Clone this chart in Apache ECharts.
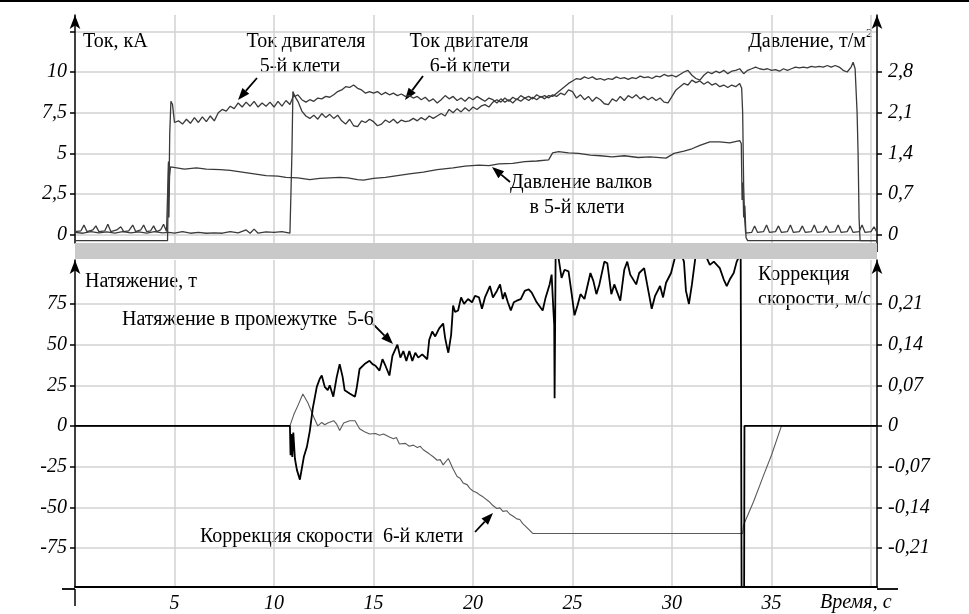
<!DOCTYPE html>
<html>
<head>
<meta charset="utf-8">
<title>Ток двигателей, давление и натяжение</title>
<script src="https://cdn.jsdelivr.net/npm/echarts@6/dist/echarts.min.js"></script>
<style>
  html, body { margin: 0; padding: 0; background: #fff; }
  #chart { width: 969px; height: 614px; }
</style>
</head>
<body>
<div id="chart"></div>
<script>
// шкалы
const timeTicks = [5, 10, 15, 20, 25, 30, 35, 40];
const timeLabels = [5, 10, 15, 20, 25, 30, 35];
const currentGrid = [0, 2.5, 5, 7.5, 10, 12.5];
const currentLabels = [0, 2.5, 5, 7.5, 10];
const pressureLabels = [0, 0.7, 1.4, 2.1, 2.8];
const tensionLabels = [-75, -50, -25, 0, 25, 50, 75];
const speedLabels = [-0.21, -0.14, -0.07, 0, 0.07, 0.14, 0.21];

// [время, с ; ток, кА] — двигатель 5-й клети
const motor5Current = [
  [0,0.2],[0.3,0.25],[0.45,0.6],[0.6,0.2],[0.9,0.3],[1.05,0.55],[1.2,0.2],[1.5,0.25],[1.65,0.65],[1.8,0.2],
  [2.1,0.3],[2.3,0.5],[2.45,0.2],[2.7,0.25],[2.9,0.6],[3.05,0.2],[3.3,0.3],[3.45,0.6],[3.6,0.2],[3.8,0.25],
  [3.95,0.55],[4.1,0.2],[4.3,0.3],[4.45,0.65],[4.6,0.2],[4.68,0.3],[4.7,4.5],[4.72,2.3],[4.76,6.2],[4.82,8.2],
  [4.9,8.0],[5.0,6.9],[5.2,7.0],[5.4,6.8],[5.6,7.1],[5.8,6.85],[6.0,7.2],[6.2,6.9],[6.4,7.25],[6.6,6.95],
  [6.8,7.3],[7.0,7.0],[7.2,7.5],[7.4,7.7],[7.6,7.6],[7.8,7.9],[8.0,7.75],[8.2,8.1],[8.4,7.85],[8.6,8.15],
  [8.8,7.9],[9.0,8.2],[9.2,7.85],[9.4,8.1],[9.6,7.9],[9.8,8.15],[10.0,7.85],[10.2,8.2],[10.4,7.9],[10.6,8.25],
  [10.8,8.0],[11.0,8.6],[11.2,8.2],[11.4,7.6],[11.6,7.3],[11.8,7.15],[12.0,7.35],[12.2,7.1],[12.4,7.45],[12.6,7.2],
  [12.8,7.4],[13.0,7.15],[13.2,7.35],[13.4,7.0],[13.6,6.8],[13.8,7.1],[14.0,6.7],[14.2,6.65],[14.4,7.0],[14.6,6.9],
  [14.8,7.1],[15.0,6.95],[15.2,6.7],[15.4,6.8],[15.6,7.05],[15.8,6.9],[16.0,7.1],[16.2,6.85],[16.4,7.05],[16.6,6.95],
  [16.8,7.0],[17.0,7.15],[17.2,7.0],[17.4,7.2],[17.6,7.05],[17.8,7.3],[18.0,7.15],[18.2,7.3],[18.4,7.45],[18.6,7.3],
  [18.8,7.7],[19.0,7.5],[19.2,7.75],[19.4,7.55],[19.6,7.8],[19.8,7.6],[20.0,7.85],[20.2,7.7],[20.4,7.9],[20.6,8.0],
  [20.8,7.85],[21.0,8.15],[21.2,8.3],[21.4,8.15],[21.6,8.4],[21.8,8.2],[22.0,8.45],[22.2,8.3],[22.4,8.55],[22.6,8.4],
  [22.8,8.5],[23.0,8.35],[23.2,8.6],[23.4,8.45],[23.6,8.55],[23.8,8.4],[24.0,8.6],[24.2,8.5],[24.4,8.7],[24.6,8.6],
  [24.8,8.9],[25.0,8.8],[25.2,8.4],[25.4,8.6],[25.6,8.3],[25.8,8.5],[26.0,8.2],[26.2,8.45],[26.4,8.3],[26.6,8.05],
  [26.8,8.0],[27.0,8.35],[27.2,8.2],[27.4,8.5],[27.6,8.25],[27.8,8.55],[28.0,8.4],[28.2,8.6],[28.4,8.35],[28.6,8.5],
  [28.8,8.3],[29.0,8.45],[29.2,8.25],[29.4,8.4],[29.6,8.15],[29.8,8.1],[30.0,8.5],[30.2,8.9],[30.4,9.1],[30.6,9.3],
  [30.8,9.2],[31.0,9.5],[31.2,9.35],[31.4,9.45],[31.6,9.25],[31.8,9.4],[32.0,9.2],[32.2,9.3],[32.4,9.1],[32.6,9.2],
  [32.8,9.05],[33.0,9.2],[33.2,9.1],[33.4,9.3],[33.5,9.0],[33.55,7.5],[33.6,3.0],[33.65,1.0],[33.7,0.1],[33.8,0.2],
  [34.0,0.15],[34.15,0.55],[34.3,0.15],[34.6,0.2],[34.75,0.6],[34.9,0.15],[35.2,0.2],[35.35,0.55],[35.5,0.15],[35.8,0.2],
  [35.95,0.6],[36.1,0.15],[36.4,0.2],[36.55,0.55],[36.7,0.15],[37.0,0.2],[37.15,0.6],[37.3,0.15],[37.6,0.2],[37.75,0.55],
  [37.9,0.15],[38.2,0.2],[38.35,0.6],[38.5,0.15],[38.8,0.2],[38.95,0.55],[39.1,0.15],[39.4,0.2],[39.55,0.6],[39.7,0.15],
  [40.0,0.2],[40.15,0.5],[40.3,0.15]
];

// [время, с ; ток, кА] — двигатель 6-й клети
const motor6Current = [
  [0,0.15],[0.4,0.1],[0.8,0.2],[1.2,0.12],[1.6,0.18],[2.0,0.1],[2.4,0.2],[2.8,0.12],[3.2,0.18],[3.6,0.1],
  [4.0,0.2],[4.4,0.12],[4.7,0.15],[5.0,0.1],[5.4,0.2],[5.8,0.1],[6.2,0.15],[6.6,0.1],[7.0,0.12],[7.4,0.1],
  [7.8,0.2],[8.2,0.12],[8.6,0.3],[8.8,0.1],[9.0,0.35],[9.2,0.1],[9.6,0.18],[10.0,0.15],[10.4,0.2],[10.8,0.1],
  [10.85,2.5],[10.9,5.0],[10.95,8.8],[11.05,8.5],[11.2,8.6],[11.4,8.3],[11.6,8.15],[11.8,8.3],[12.0,8.2],[12.2,8.4],
  [12.4,8.35],[12.6,8.5],[12.8,8.45],[13.0,8.6],[13.2,8.8],[13.4,8.9],[13.6,9.1],[13.8,9.05],[14.0,9.2],[14.2,9.0],
  [14.4,8.9],[14.6,8.7],[14.8,8.8],[15.0,8.7],[15.2,8.8],[15.4,8.6],[15.6,8.75],[15.8,8.6],[16.0,8.7],[16.2,8.55],
  [16.4,8.65],[16.6,8.5],[16.8,8.55],[17.0,8.4],[17.2,8.5],[17.4,8.3],[17.6,8.45],[17.8,8.2],[18.0,8.35],[18.2,8.1],
  [18.4,8.3],[18.6,8.55],[18.8,8.35],[19.0,8.5],[19.2,8.25],[19.4,8.4],[19.6,8.2],[19.8,8.45],[20.0,8.3],[20.2,8.5],
  [20.4,8.35],[20.6,8.2],[20.8,8.4],[21.0,8.3],[21.2,8.1],[21.4,8.35],[21.6,8.15],[21.8,8.3],[22.0,8.1],[22.2,8.35],
  [22.4,8.2],[22.6,8.4],[22.8,8.25],[23.0,8.45],[23.2,8.3],[23.4,8.5],[23.6,8.35],[23.8,8.55],[24.0,8.5],[24.2,8.7],
  [24.4,8.9],[24.6,9.1],[24.8,9.3],[25.0,9.45],[25.2,9.6],[25.4,9.55],[25.6,9.7],[25.8,9.6],[26.0,9.7],[26.2,9.55],
  [26.4,9.6],[26.6,9.5],[26.8,9.6],[27.0,9.55],[27.2,9.7],[27.4,9.6],[27.6,9.65],[27.8,9.55],[28.0,9.65],[28.2,9.6],
  [28.4,9.75],[28.6,9.65],[28.8,9.7],[29.0,9.6],[29.2,9.75],[29.4,9.7],[29.6,9.85],[29.8,9.75],[30.0,9.8],[30.2,9.7],
  [30.4,9.85],[30.6,10.0],[30.8,10.1],[31.0,9.8],[31.2,9.6],[31.4,9.5],[31.6,9.8],[31.8,10.0],[32.0,9.9],[32.2,10.05],
  [32.4,9.95],[32.6,10.1],[32.8,9.9],[33.0,10.05],[33.2,10.1],[33.4,10.2],[33.6,9.9],[33.8,10.1],[34.0,10.2],[34.2,10.3],
  [34.4,10.2],[34.6,10.15],[34.8,10.2],[35.0,10.1],[35.2,10.15],[35.4,10.05],[35.6,10.2],[35.8,10.1],[36.0,10.2],[36.2,10.3],
  [36.4,10.25],[36.6,10.3],[36.8,10.25],[37.0,10.35],[37.2,10.3],[37.4,10.35],[37.6,10.3],[37.8,10.4],[38.0,10.3],[38.2,10.4],
  [38.4,10.3],[38.6,10.1],[38.8,10.0],[39.0,10.3],[39.1,10.6],[39.2,10.2],[39.3,7.5],[39.35,5.0],[39.4,1.0],[39.45,-0.35],
  [40.3,-0.35]
];

// [время, с ; давление, т/м²] — давление валков в 5-й клети
const rollPressure = [
  [0,-0.1],[4.65,-0.1],[4.68,0.6],[4.7,1.24],[4.72,0.3],[4.75,1.0],[4.8,1.17],[4.9,1.15],[5.5,1.13],[6.1,1.15],
  [6.6,1.13],[7.3,1.12],[7.8,1.11],[8.4,1.08],[9.0,1.05],[9.6,1.02],[10.2,1.01],[10.6,0.99],[11.2,0.98],[11.8,0.95],
  [12.3,0.97],[12.8,0.98],[13.3,0.99],[13.7,0.98],[14.2,0.95],[14.5,0.94],[15.0,0.97],[15.6,0.99],[16.2,1.02],[16.8,1.05],
  [17.5,1.08],[18.2,1.12],[19.0,1.15],[19.6,1.18],[20.3,1.2],[20.8,1.19],[21.3,1.22],[22.0,1.23],[22.6,1.26],[23.2,1.27],
  [23.8,1.29],[24.0,1.41],[24.3,1.43],[24.8,1.41],[25.3,1.4],[25.9,1.37],[26.4,1.36],[27.0,1.34],[27.6,1.36],[28.3,1.33],
  [28.9,1.34],[29.7,1.32],[30.1,1.4],[30.6,1.44],[31.0,1.48],[31.4,1.54],[31.9,1.6],[32.4,1.6],[32.9,1.58],[33.4,1.62],
  [33.48,1.57],[33.52,0.6],[33.56,0.9],[33.6,0.3],[33.66,0.5],[33.72,-0.05],[33.8,-0.1],[40.3,-0.1]
];

// [время, с ; натяжение, т] — натяжение в промежутке 5-6
const tension56 = [
  [0,0],[10.8,0],[10.83,-18],[10.87,-5],[10.92,-19],[10.97,-4],[11.05,-20],[11.15,-27],[11.3,-33],[11.4,-26],
  [11.5,-19],[11.65,-13],[11.8,-3],[11.95,11],[12.15,24],[12.3,29],[12.4,31],[12.55,24],[12.7,22],[12.8,25],
  [12.98,18],[13.15,30],[13.3,38],[13.45,30],[13.55,22],[13.8,20],[14.07,18],[14.15,23],[14.3,35],[14.55,38],
  [14.8,40],[14.95,38],[15.1,37],[15.3,34],[15.45,41],[15.6,37],[15.8,31],[15.95,43],[16.2,50],[16.35,42],
  [16.5,46],[16.65,40],[16.8,46],[16.95,40],[17.1,45],[17.25,42],[17.45,44],[17.7,41],[17.8,53],[17.95,58],
  [18.1,55],[18.3,60],[18.5,63],[18.6,54],[18.7,48],[18.76,45],[18.9,56],[19.0,74],[19.1,70],[19.25,71],
  [19.4,79],[19.55,75],[19.75,78],[19.95,76],[20.1,80],[20.3,79],[20.45,72],[20.6,79],[20.85,86],[21.0,79],
  [21.2,83],[21.36,87],[21.5,78],[21.6,82],[21.75,76],[21.9,71],[22.05,76],[22.2,77],[22.4,78],[22.6,83],
  [22.8,84],[22.95,82],[23.2,76],[23.5,71],[23.65,79],[23.85,87],[23.95,93],[24.04,71],[24.08,62],[24.1,17],
  [24.15,103],[24.2,108],[24.3,103],[24.45,91],[24.6,96],[24.8,95],[24.96,81],[25.1,68],[25.25,74],[25.4,81],
  [25.6,78],[25.9,94],[26.05,89],[26.2,81],[26.35,87],[26.6,101],[26.75,100],[26.95,81],[27.1,87],[27.4,77],
  [27.6,96],[27.75,101],[27.9,93],[28.2,87],[28.35,94],[28.6,97],[28.75,87],[28.98,72],[29.15,80],[29.4,86],
  [29.55,79],[29.7,88],[29.95,94],[30.2,106],[30.45,106],[30.6,101],[30.7,83],[30.85,75],[31.0,87],[31.2,106],
  [31.5,110],[31.9,99],[32.1,101],[32.4,97],[32.6,90],[32.75,86],[32.9,90],[33.1,94],[33.25,101],[33.45,106],
  [33.5,-120],[33.62,-120],[33.64,0],[40.3,0]
];

// [время, с ; коррекция, м/с] — коррекция скорости 6-й клети
const speedCorr6 = [
  [0,0],[10.8,0],[11.0,0.02],[11.2,0.035],[11.45,0.055],[11.7,0.04],[12.0,0.015],[12.2,0.0],[12.4,0.006],[12.55,0.002],
  [12.7,0.005],[13.0,0.009],[13.15,0.003],[13.3,-0.008],[13.5,0.005],[13.8,0.009],[14.07,0.009],[14.3,-0.005],[14.55,-0.01],[14.8,-0.014],
  [15.1,-0.013],[15.3,-0.016],[15.5,-0.014],[15.8,-0.019],[16.0,-0.022],[16.15,-0.02],[16.3,-0.031],[16.6,-0.03],[16.8,-0.035],[17.0,-0.033],
  [17.2,-0.037],[17.35,-0.035],[17.5,-0.041],[17.8,-0.048],[18.0,-0.053],[18.2,-0.059],[18.35,-0.058],[18.5,-0.067],[18.76,-0.056],[19.0,-0.074],
  [19.2,-0.087],[19.35,-0.09],[19.5,-0.098],[19.7,-0.101],[19.85,-0.108],[20.0,-0.112],[20.2,-0.115],[20.35,-0.119],[20.5,-0.122],[20.8,-0.13],
  [21.0,-0.137],[21.2,-0.142],[21.35,-0.141],[21.5,-0.147],[21.7,-0.146],[21.85,-0.152],[22.0,-0.155],[22.2,-0.16],[22.35,-0.161],[22.5,-0.168],
  [22.8,-0.178],[23.0,-0.185],[33.55,-0.185],[33.6,-0.17],[34.1,-0.13],[34.6,-0.085],[35.0,-0.05],[35.5,0],[40.3,0]
];

const serif = '"Liberation Serif", "DejaVu Serif", serif';
const ink = '#000';

function arrow(x1, y1, x2, y2) {
  const dx = x2 - x1, dy = y2 - y1, len = Math.hypot(dx, dy);
  const ux = dx / len, uy = dy / len;
  const bx = x2 - ux * 12, by = y2 - uy * 12;
  return [
    { type: 'line', shape: { x1: x1, y1: y1, x2: bx, y2: by }, style: { stroke: '#000', lineWidth: 1.8 } },
    { type: 'polygon', shape: { points: [[x2, y2], [bx - uy * 4.5, by + ux * 4.5], [bx + uy * 4.5, by - ux * 4.5]] }, style: { fill: '#000' } }
  ];
}

function label(text, x, y, align, italic, size) {
  return {
    type: 'text', x: x, y: y,
    style: {
      text: text, font: (italic ? 'italic ' : '') + (size || 20) + 'px ' + serif, fill: ink,
      align: align || 'left', textAlign: align || 'left', verticalAlign: 'middle', textVerticalAlign: 'middle'
    }
  };
}

function comma(v) { return String(v).replace('.', ','); }

const gridLine = { show: true, lineStyle: { color: '#d2d2d2', width: 1.5 } };
const axisBlack = { show: true, onZero: false, symbol: ['none', 'arrow'], symbolSize: [8, 14], lineStyle: { color: '#000', width: 1.5 } };
const tickLabel = { fontFamily: serif, fontStyle: 'italic', fontSize: 20, color: ink };

const chart = echarts.init(document.getElementById('chart'));

const option = {
  animation: false,
  backgroundColor: '#fff',
  grid: [
    { left: 75, right: 92, top: 15, height: 228 },
    { left: 75, right: 92, top: 260, height: 329 }
  ],
  xAxis: [
    {
      type: 'value', gridIndex: 0, min: 0, max: 40.3,
      axisLine: { show: true, onZero: false, lineStyle: { color: '#c9c9c9', width: 16, cap: 'butt' } },
      offset: 8,
      axisTick: { show: false, customValues: timeTicks },
      axisLabel: { show: false },
      splitLine: gridLine
    },
    {
      type: 'value', gridIndex: 1, min: 0, max: 40.3,
      axisLine: { show: true, onZero: false, lineStyle: { color: '#000', width: 1.8 } },
      axisTick: { show: false, customValues: timeTicks },
      axisLabel: Object.assign({ customValues: timeLabels, margin: 7 }, tickLabel),
      splitLine: gridLine
    }
  ],
  yAxis: [
    {
      type: 'value', gridIndex: 0, position: 'left', min: -0.5, max: 13.5,
      axisLine: axisBlack,
      axisTick: { show: true, customValues: currentGrid, length: 5, lineStyle: { color: '#000', width: 1.5 } },
      axisLabel: Object.assign({ customValues: currentLabels, margin: 8, formatter: comma }, tickLabel),
      splitLine: gridLine
    },
    {
      type: 'value', gridIndex: 0, position: 'right', min: -0.14, max: 3.78,
      axisLine: axisBlack,
      axisTick: { show: true, customValues: pressureLabels, length: 5, lineStyle: { color: '#000', width: 1.5 } },
      axisLabel: Object.assign({ customValues: pressureLabels, margin: 11, formatter: comma }, tickLabel),
      splitLine: { show: false }
    },
    {
      type: 'value', gridIndex: 1, position: 'left', min: -99, max: 102,
      axisLine: axisBlack,
      axisTick: { show: true, customValues: tensionLabels, length: 5, lineStyle: { color: '#000', width: 1.5 } },
      axisLabel: Object.assign({ customValues: tensionLabels, margin: 8 }, tickLabel),
      splitLine: gridLine
    },
    {
      type: 'value', gridIndex: 1, position: 'right', min: -0.2772, max: 0.2856,
      axisLine: axisBlack,
      axisTick: { show: true, customValues: speedLabels, length: 5, lineStyle: { color: '#000', width: 1.5 } },
      axisLabel: Object.assign({ customValues: speedLabels, margin: 11, formatter: comma }, tickLabel),
      splitLine: { show: false }
    }
  ],
  series: [
    { name: 'Ток двигателя 5-й клети', type: 'line', xAxisIndex: 0, yAxisIndex: 0, data: motor5Current,
      showSymbol: false, lineStyle: { color: '#3a3a3a', width: 1.3 } },
    { name: 'Ток двигателя 6-й клети', type: 'line', xAxisIndex: 0, yAxisIndex: 0, data: motor6Current,
      showSymbol: false, lineStyle: { color: '#3a3a3a', width: 1.3 } },
    { name: 'Давление валков в 5-й клети', type: 'line', xAxisIndex: 0, yAxisIndex: 1, data: rollPressure,
      showSymbol: false, lineStyle: { color: '#3a3a3a', width: 1.3 } },
    { name: 'Коррекция скорости 6-й клети', type: 'line', xAxisIndex: 1, yAxisIndex: 3, data: speedCorr6,
      showSymbol: false, lineStyle: { color: '#5a5a5a', width: 1.1 } },
    { name: 'Натяжение в промежутке 5-6', type: 'line', xAxisIndex: 1, yAxisIndex: 2, data: tension56,
      showSymbol: false, lineStyle: { color: '#000', width: 1.8 } }
  ],
  graphic: [
    { type: 'rect', shape: { x: 0, y: 0, width: 969, height: 2 }, style: { fill: '#000' } },
    // продолжение осей за пределы сетки
    { type: 'line', shape: { x1: 62, y1: 589, x2: 75, y2: 589 }, style: { stroke: '#000', lineWidth: 1.8 } },
    { type: 'line', shape: { x1: 877, y1: 589, x2: 898, y2: 589 }, style: { stroke: '#000', lineWidth: 1.8 } },
    { type: 'line', shape: { x1: 75, y1: 589, x2: 75, y2: 606 }, style: { stroke: '#000', lineWidth: 1.5 } },
    { type: 'line', shape: { x1: 877, y1: 243, x2: 877, y2: 252 }, style: { stroke: '#000', lineWidth: 1.5 } },
    label('Ток, кА', 83, 42),
    label('Ток двигателя', 306, 42, 'center'),
    label('5-й клети', 300, 67, 'center'),
    label('Ток двигателя', 469, 42, 'center'),
    label('6-й клети', 470, 67, 'center'),
    label('Давление, т/м', 866, 42, 'right'),
    label('2', 866, 34, 'left', false, 13),
    label('Давление валков', 581, 183, 'center'),
    label('в 5-й клети', 577, 208, 'center'),
    label('Натяжение, т', 85, 282),
    label('Натяжение в промежутке  5-6', 122, 320),
    label('Коррекция скорости  6-й клети', 200, 537),
    label('Коррекция', 758, 275),
    label('скорости, м/с', 758, 300),
    label('Время, с', 820, 603, 'left', true)
  ]
    .concat(arrow(257, 78, 238, 100))
    .concat(arrow(423, 76, 405, 100))
    .concat(arrow(510, 182, 492, 167))
    .concat(arrow(373, 324, 393, 344))
    .concat(arrow(475, 532, 493, 513))
};

chart.setOption(option);
</script>
</body>
</html>
